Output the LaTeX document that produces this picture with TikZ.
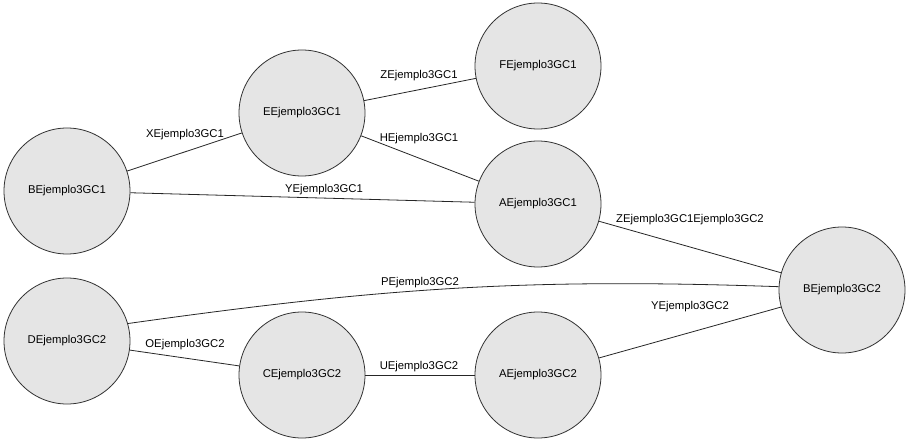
\documentclass[tikz,border=0pt]{standalone}
\usepackage{fontspec}
\setmainfont{Liberation Sans}
\begin{document}
\begin{tikzpicture}[x=1pt,y=-1pt,
  vnode/.style={circle,draw=black!80,fill=black!10,line width=0.8pt,minimum size=126pt,inner sep=0pt,font=\fontsize{11.3}{13}\selectfont},
  elabel/.style={inner sep=0pt,font=\fontsize{11.3}{13}\selectfont},
  edge/.style={draw=black!85,line width=0.8pt}]
\useasboundingbox[fill=white] (0,0) rectangle (910,441);
\node[vnode] (B1) at (67,191) {BEjemplo3GC1};
\node[vnode] (E1) at (302,113) {EEjemplo3GC1};
\node[vnode] (F1) at (538,66) {FEjemplo3GC1};
\node[vnode] (A1) at (538,204) {AEjemplo3GC1};
\node[vnode] (B2) at (842,290) {BEjemplo3GC2};
\node[vnode] (D2) at (67,341) {DEjemplo3GC2};
\node[vnode] (C2) at (302,375) {CEjemplo3GC2};
\node[vnode] (A2) at (538,375) {AEjemplo3GC2};
\draw[edge] (B1) -- (E1);
\draw[edge] (B1) -- (A1);
\draw[edge] (E1) -- (F1);
\draw[edge] (E1) -- (A1);
\draw[edge] (A1) -- (B2);
\draw[edge] (D2.16) to[out=8,in=178] (B2.177);
\draw[edge] (D2) -- (C2);
\draw[edge] (C2) -- (A2);
\draw[edge] (A2) -- (B2);
\node[elabel] (lX) at (185,135) {XEjemplo3GC1};
\node[elabel] (lY1) at (324,190) {YEjemplo3GC1};
\node[elabel] (lZ) at (419,76) {ZEjemplo3GC1};
\node[elabel] (lH) at (419,139) {HEjemplo3GC1};
\node[elabel] (lZZ) at (690,220) {ZEjemplo3GC1Ejemplo3GC2};
\node[elabel] (lP) at (420,283) {PEjemplo3GC2};
\node[elabel] (lO) at (185,345) {OEjemplo3GC2};
\node[elabel] (lU) at (419,367) {UEjemplo3GC2};
\node[elabel] (lY2) at (690,307) {YEjemplo3GC2};
\end{tikzpicture}
\end{document}
